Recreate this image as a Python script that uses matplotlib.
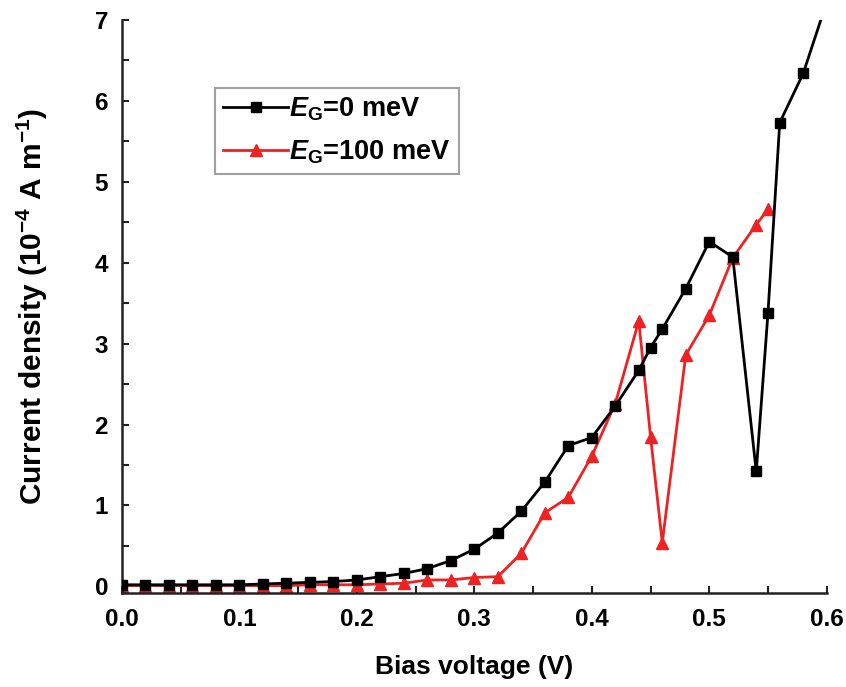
import matplotlib
matplotlib.use("Agg")
import matplotlib.pyplot as plt
from matplotlib.ticker import MultipleLocator

plt.rcParams['font.family'] = ['Liberation Sans', 'DejaVu Sans']
plt.rcParams['font.weight'] = 'bold'
plt.rcParams['mathtext.fontset'] = 'custom'
plt.rcParams['mathtext.rm'] = 'Liberation Sans:bold'
plt.rcParams['mathtext.it'] = 'Liberation Sans:italic:bold'
plt.rcParams['mathtext.bf'] = 'Liberation Sans:bold'
plt.rcParams['mathtext.default'] = 'rm'

# Black series: E_G = 0 meV
x_e0 = [0.00, 0.02, 0.04, 0.06, 0.08, 0.10, 0.12, 0.14, 0.16, 0.18, 0.20, 0.22,
        0.24, 0.26, 0.28, 0.30, 0.32, 0.34, 0.36, 0.38, 0.40, 0.42, 0.44, 0.45,
        0.46, 0.48, 0.50, 0.52, 0.54, 0.55, 0.56, 0.58, 0.60]
y_e0 = [0.02, 0.02, 0.02, 0.02, 0.02, 0.02, 0.03, 0.04, 0.05, 0.06, 0.08, 0.12,
        0.16, 0.22, 0.32, 0.46, 0.66, 0.93, 1.29, 1.74, 1.84, 2.23, 2.67, 2.95,
        3.18, 3.68, 4.26, 4.07, 1.42, 3.38, 5.73, 6.34, 7.22]

# Red series: E_G = 100 meV
x_e100 = [0.00, 0.02, 0.04, 0.06, 0.08, 0.10, 0.12, 0.14, 0.16, 0.18, 0.20, 0.22,
          0.24, 0.26, 0.28, 0.30, 0.32, 0.34, 0.36, 0.38, 0.40, 0.42, 0.44, 0.45,
          0.46, 0.48, 0.50, 0.52, 0.54, 0.55]
y_e100 = [0.01, 0.01, 0.01, 0.01, 0.01, 0.01, 0.01, 0.01, 0.02, 0.02, 0.02, 0.03,
          0.04, 0.08, 0.08, 0.11, 0.12, 0.41, 0.91, 1.10, 1.61, 2.26, 3.28, 1.85,
          0.54, 2.86, 3.35, 4.06, 4.47, 4.66]

labels = [r"$\mathit{E}_{\mathrm{G}}$=0 meV", r"$\mathit{E}_{\mathrm{G}}$=100 meV"]
x_ticks = [0.0, 0.1, 0.2, 0.3, 0.4, 0.5, 0.6]
y_ticks = [0, 1, 2, 3, 4, 5, 6, 7]

fig = plt.figure(figsize=(8.46, 6.87), dpi=100)
ax = fig.add_axes([0.1442, 0.137, 0.833, 0.834])

ax.plot(x_e0, y_e0, color='black', lw=2.0, marker='s', ms=7.5,
        label=labels[0], zorder=3)
ax.plot(x_e100, y_e100, color='#ee2222', lw=2.0, marker='^', ms=9,
        label=labels[1], zorder=2)

ax.set_xlim(0, 0.6)
ax.set_ylim(-0.08, 7)
ax.set_xticks(x_ticks)
ax.set_xticklabels([f"{v:.1f}" for v in x_ticks])
ax.set_yticks(y_ticks)
ax.set_yticklabels([str(v) for v in y_ticks])
ax.xaxis.set_minor_locator(MultipleLocator(0.05))
ax.yaxis.set_minor_locator(MultipleLocator(0.5))

for s in ['top', 'right']:
    ax.spines[s].set_visible(False)
for s in ['left', 'bottom']:
    ax.spines[s].set_linewidth(1.8)
    ax.spines[s].set_color('#222222')

ax.tick_params(which='both', direction='in', width=1.5, length=5,
               colors='#222222', labelcolor='black', labelsize=17.5)
ax.tick_params(axis='x', pad=11)
ax.tick_params(axis='y', pad=10)
for lab in ax.get_xticklabels() + ax.get_yticklabels():
    lab.set_fontweight('bold')

ax.set_xlabel("Bias voltage (V)", fontsize=19, fontweight='bold', labelpad=17)
ax.set_ylabel(r"Current density (10$^{-4}$ A m$^{-1}$)", fontsize=21.5,
              fontweight='bold', labelpad=32)

leg = ax.legend(loc='upper left', bbox_to_anchor=(0.132, 0.882), fontsize=19.5,
                frameon=True, fancybox=False, edgecolor='#888888',
                handlelength=2.4, handletextpad=0.05, borderpad=0.3,
                labelspacing=0.55, borderaxespad=0)
leg.get_frame().set_linewidth(1.5)

fig.savefig("out.png", dpi=100)
